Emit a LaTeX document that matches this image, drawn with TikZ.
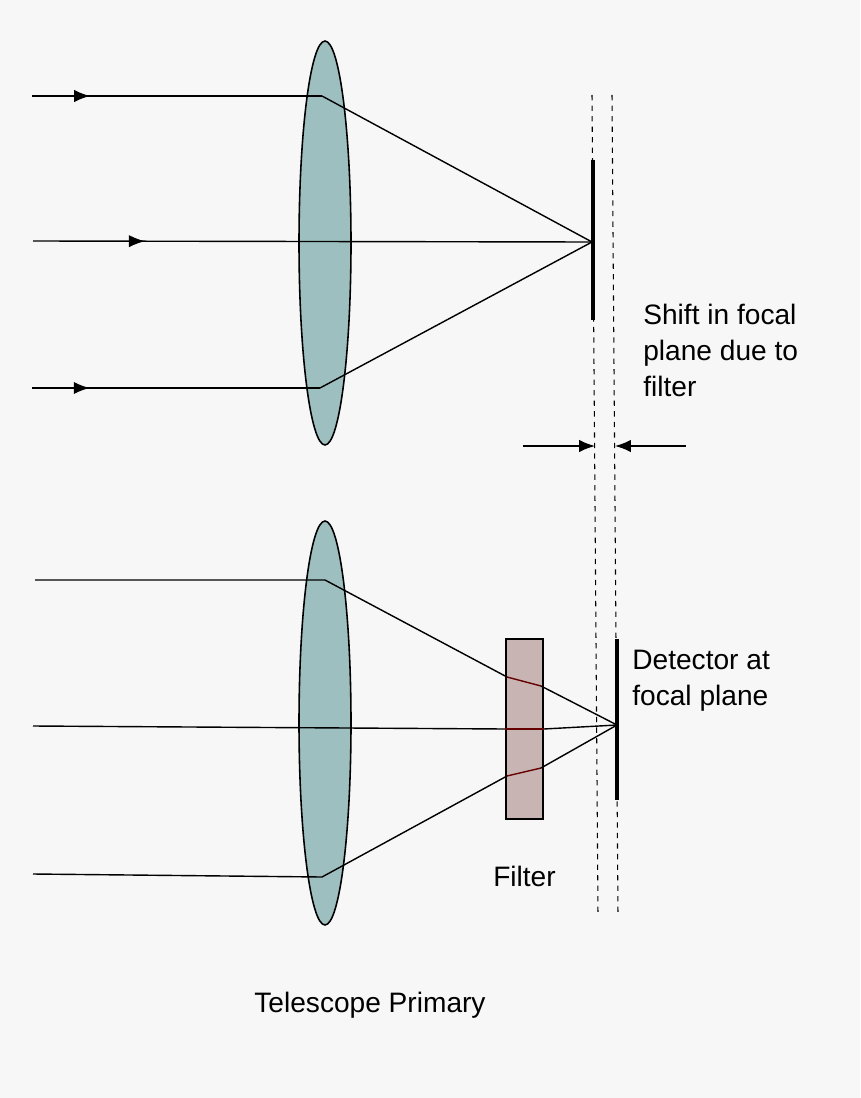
\documentclass[tikz,border=0pt]{standalone}
\usepackage{fontspec}
\setmainfont{Liberation Sans}
\usetikzlibrary{arrows.meta,shapes.geometric,positioning,decorations.markings}
\definecolor{lensfill}{HTML}{9EBFC0}
\definecolor{filterfill}{HTML}{C9B4B4}
\definecolor{bg}{HTML}{F7F7F7}
\tikzset{
  lens/.style={draw, ellipse, fill=lensfill, line width=0.9pt, minimum width=1.04cm, minimum height=8.08cm, inner sep=0pt},
  ray/.style={line width=0.8pt},
  inray/.style={ray, postaction={decorate}, decoration={markings, mark=at position 0.2 with {\arrow{Latex[length=9pt,width=7pt]}}}},
  detector/.style={line width=2.2pt},
  guide/.style={dashed, line width=0.6pt},
  label/.style={font=\fontsize{16}{20.5}\selectfont, align=left, inner sep=0pt}
}
\begin{document}
\begin{tikzpicture}[x=0.02cm, y=-0.02cm]
    % Background
    \fill[bg] (0,0) rectangle (860,1098);
    \useasboundingbox (0,0) rectangle (860,1098);

    % Top lens and rays
    \node[lens] (lensA) at (325,243) {};
    \coordinate (fA) at (592,242);
    \coordinate (a1) at (32,96);  \coordinate (a1l) at (322,96);
    \coordinate (a2) at (33,241);
    \coordinate (a3) at (32,388); \coordinate (a3l) at (320,388);
    \draw[inray] (a1) -- (a1l);
    \draw[ray] (a1l) -- (fA);
    \draw[inray] (a2) -- (fA);
    \draw[inray] (a3) -- (a3l);
    \draw[ray] (a3l) -- (fA);
    \coordinate (detAt) at (593,160); \coordinate (detAb) at (593,320);
    \draw[detector] (detAt) -- (detAb);

    % Dashed focal planes
    \coordinate (g1t) at (592,95);  \coordinate (g1b) at (598,915);
    \coordinate (g2t) at (612,95);  \coordinate (g2b) at (618,915);
    \draw[guide] (g1t) -- (g1b);
    \draw[guide] (g2t) -- (g2b);

    % Shift arrows
    \coordinate (s1) at (523,446); \coordinate (s1e) at (595,446);
    \coordinate (s2) at (686,446); \coordinate (s2e) at (615,446);
    \draw[ray, -{Latex[length=9pt,width=7pt]}] (s1) -- (s1e);
    \draw[ray, -{Latex[length=9pt,width=7pt]}] (s2) -- (s2e);
    \node[label, anchor=north west] (shift) at (643,304) {Shift in focal\\plane due to\\filter};

    % Bottom lens, filter and rays
    \node[lens] (lensB) at (325,723) {};
    \node[draw, fill=filterfill, line width=0.9pt, minimum width=0.74cm, minimum height=3.6cm, inner sep=0pt] (filter) at (524.5,729) {};
    \coordinate (fB) at (617,725);
    \coordinate (b1) at (35,580);  \coordinate (b1l) at (325,580);
    \coordinate (b1i) at (507,677); \coordinate (b1o) at (541,686);
    \coordinate (b2) at (33,726);
    \coordinate (b3) at (33,874);  \coordinate (b3l) at (322,877);
    \coordinate (b3i) at (507,776); \coordinate (b3o) at (541,768);
    \draw[ray] (b1) -- (b1l) -- (b1i);
    \draw[ray, red!40!black] (b1i) -- (b1o);
    \draw[ray] (b1o) -- (fB);
    \draw[ray] (b2) -- (filter.west);
    \draw[ray, red!40!black] (filter.west) -- (filter.east);
    \draw[ray] (filter.east) -- (fB);
    \draw[ray] (b3) -- (b3l) -- (b3i);
    \draw[ray, red!40!black] (b3i) -- (b3o);
    \draw[ray] (b3o) -- (fB);
    \coordinate (detBt) at (617,639); \coordinate (detBb) at (617,800);
    \draw[detector] (detBt) -- (detBb);

    % Labels
    \node[label, anchor=north west] (det) at (632,650) {Detector at\\focal plane};
    \node[label, below=26pt of filter] (filt) {Filter};
    \node[label] (prim) at (370,1005) {Telescope Primary};
\end{tikzpicture}
\end{document}
